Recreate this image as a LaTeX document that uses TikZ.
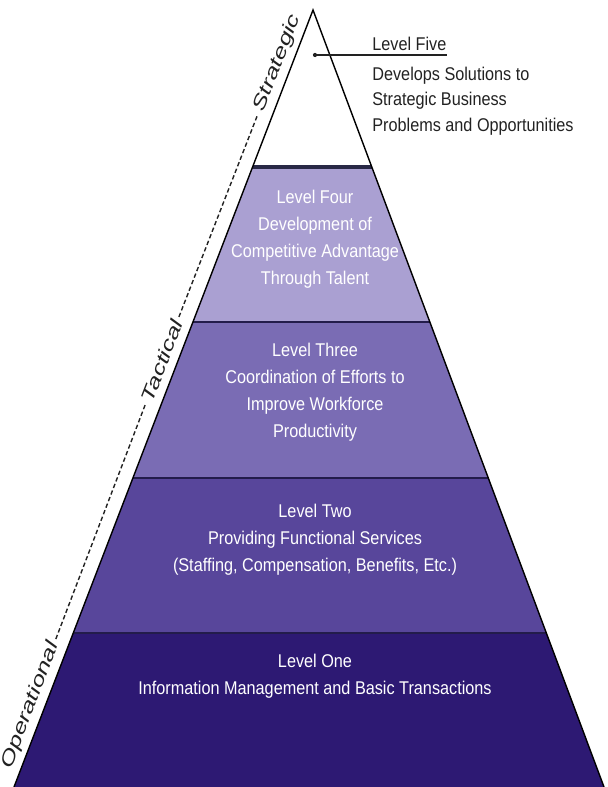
\documentclass[tikz,border=0pt]{standalone}
\usepackage{fontspec}
\setmainfont{Liberation Sans}
\newfontfamily\lvfont[FakeStretch=0.88]{Liberation Sans}
\newfontfamily\tierfont[FakeStretch=1.4]{Liberation Sans}
\usepackage{tikz}
\usetikzlibrary{positioning}
\definecolor{lvfour}{RGB}{170,160,210}
\definecolor{lvthree}{RGB}{122,108,180}
\definecolor{lvtwo}{RGB}{88,70,155}
\definecolor{lvone}{RGB}{45,25,115}
\definecolor{lvline}{RGB}{35,28,75}
\definecolor{lvtop}{RGB}{40,40,70}
\definecolor{lvink}{RGB}{34,34,34}

\begin{document}
\begin{tikzpicture}[
    lvtext/.style={text=white, align=center, inner sep=0pt,
      font=\lvfont\fontsize{10.5}{15.3}\selectfont},
    fivetext/.style={text=lvink, align=left, inner sep=0pt,
      font=\lvfont\fontsize{10.5}{14.5}\selectfont},
    tier/.style={rotate=69, text=lvink, inner sep=2pt,
      font=\tierfont\itshape\fontsize{10.5}{12}\selectfont},
    tierline/.style={lvink, line width=0.8pt, dash pattern=on 2.5pt off 1.5pt},
    sep/.style={draw=lvline, line width=1.1pt}
  ]
        \useasboundingbox (0,0) rectangle (12.14,-15.74);

        \coordinate (Apex) at (6.26,-0.20);
        \coordinate (Lfour) at (5.05,-3.34);
        \coordinate (Rfour) at (7.44,-3.34);
        \coordinate (Lthree) at (3.86,-6.44);
        \coordinate (Rthree) at (8.60,-6.44);
        \coordinate (Ltwo) at (2.66,-9.56);
        \coordinate (Rtwo) at (9.77,-9.56);
        \coordinate (Lone) at (1.47,-12.66);
        \coordinate (Rone) at (10.93,-12.66);
        \coordinate (Lbase) at (0.28,-15.74);
        \coordinate (Rbase) at (12.08,-15.74);

        \coordinate (fivedot) at (6.30,-1.10);

        % levels
        \fill[lvfour] (Lfour) -- (Rfour) -- (Rthree) -- (Lthree) -- cycle;
        \fill[lvthree] (Lthree) -- (Rthree) -- (Rtwo) -- (Ltwo) -- cycle;
        \fill[lvtwo] (Ltwo) -- (Rtwo) -- (Rone) -- (Lone) -- cycle;
        \fill[lvone] (Lone) -- (Rone) -- (Rbase) -- (Lbase) -- cycle;

        \draw[draw=lvtop, line width=2.3pt] (Lfour) -- (Rfour);
        \draw[sep] (Lthree) -- (Rthree);
        \draw[sep] (Ltwo) -- (Rtwo);
        \draw[sep] (Lone) -- (Rone);

        \draw[line width=0.8pt, line join=miter] (Lbase) -- (Apex) -- (Rbase);

        \node[lvtext] (four) at (6.30,-4.78) {Level Four\\Development of\\Competitive Advantage\\Through Talent};
        \node[lvtext] (three) at (6.30,-7.84) {Level Three\\Coordination of Efforts to\\Improve Workforce\\Productivity};
        \node[lvtext] (two) at (6.30,-10.79) {Level Two\\Providing Functional Services\\(Staffing, Compensation, Benefits, Etc.)};
        \node[lvtext] (one) at (6.30,-13.53) {Level One\\Information Management and Basic Transactions};

        % level five
        \node[fivetext, anchor=base west] (fivehead) at (7.44,-1.02) {Level Five};
        \node[fivetext, below=0.3cm of fivehead.south west, anchor=north west] (fivebody)
          {Develops Solutions to\\Strategic Business\\Problems and Opportunities};
        \fill[lvink] (fivedot) circle (1.2pt);
        \draw[lvink, line width=0.7pt] (fivedot) -- (fivedot -| fivehead.east);

        % tiers
        \node[tier] (oper) at (0.61,-14.10) {Operational};
        \node[tier] (tact) at (3.24,-7.22) {Tactical};
        \node[tier] (strat) at (5.55,-1.26) {Strategic};

        \draw[tierline] (oper.east) -- (tact.west);
        \draw[tierline] (tact.east) -- (strat.west);
\end{tikzpicture}
\end{document}
